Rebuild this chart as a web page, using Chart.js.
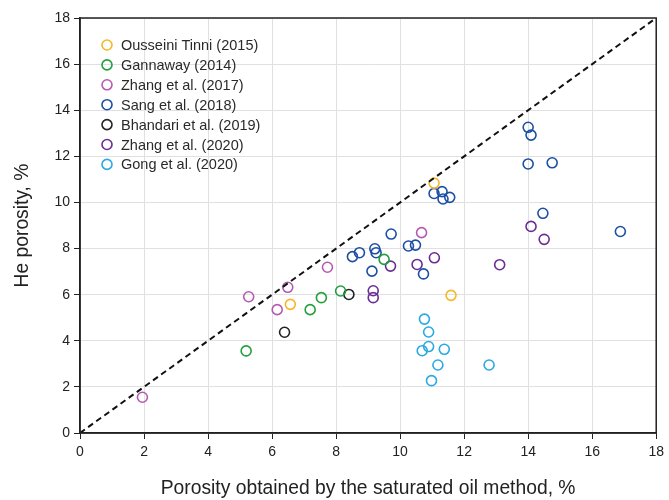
<!DOCTYPE html>
<html>
<head>
<meta charset="utf-8">
<script src="https://cdn.jsdelivr.net/npm/chart.js@4/dist/chart.umd.min.js"></script>
<style>
  html, body { margin: 0; padding: 0; background: #fff; }
  #wrap { width: 669px; height: 500px; }
</style>
</head>
<body>
<div id="wrap"><canvas id="chart" width="669" height="500"></canvas></div>
<script>
// series labels and colours
var seriesNames = ['Ousseini Tinni (2015)', 'Gannaway (2014)', 'Zhang et al. (2017)', 'Sang et al. (2018)',
    'Bhandari et al. (2019)', 'Zhang et al. (2020)', 'Gong et al. (2020)'];
var seriesColors = ['#f6b626', '#22a03c', '#b45bb0', '#1c4fa5', '#222222', '#6b2d94', '#2aa9e2'];

// x = saturated oil porosity, y = He porosity
var tinniX = [11.06, 6.57, 11.59];
var tinniY = [10.84, 5.58, 5.97];

var gannawayX = [5.19, 7.19, 7.54, 8.14, 9.50];
var gannawayY = [3.56, 5.35, 5.87, 6.16, 7.53];

var zhang17X = [1.95, 5.27, 6.16, 6.49, 7.73, 10.67];
var zhang17Y = [1.55, 5.91, 5.35, 6.32, 7.19, 8.69];

var sangX = [9.72, 8.51, 8.73, 9.21, 9.25, 9.12, 10.26, 10.48, 10.73, 14.0, 14.75, 11.06, 11.31, 11.34, 11.55, 14.46, 16.88, 14.0, 14.09];
var sangY = [8.63, 7.65, 7.82, 7.99, 7.82, 7.02, 8.11, 8.15, 6.90, 11.67, 11.72, 10.39, 10.47, 10.15, 10.22, 9.53, 8.74, 13.26, 12.92];

var bhandariX = [6.39, 8.40];
var bhandariY = [4.37, 6.01];

var zhang20X = [9.16, 9.16, 9.70, 10.53, 11.07, 14.09, 14.50, 13.11];
var zhang20Y = [6.17, 5.87, 7.24, 7.31, 7.60, 8.96, 8.40, 7.30];

var gongX = [10.76, 10.89, 10.89, 10.69, 11.38, 11.18, 10.98, 12.78];
var gongY = [4.94, 4.38, 3.75, 3.57, 3.63, 2.95, 2.27, 2.95];

var lineX = [0, 18];
var lineY = [0, 18];

var allX = [tinniX, gannawayX, zhang17X, sangX, bhandariX, zhang20X, gongX];
var allY = [tinniY, gannawayY, zhang17Y, sangY, bhandariY, zhang20Y, gongY];

function toPoints(xs, ys) {
    return xs.map(function(x, i) { return { x: x, y: ys[i] }; });
}

var datasets = seriesNames.map(function(name, i) {
    return {
        type: 'scatter',
        label: name,
        data: toPoints(allX[i], allY[i]),
        borderColor: seriesColors[i],
        backgroundColor: 'rgba(255,255,255,0)',
        pointRadius: 5,
        pointBorderWidth: 1.6,
        pointHoverRadius: 5
    };
});

// 1:1 line
datasets.unshift({
    type: 'line',
    label: '1:1',
    data: toPoints(lineX, lineY),
    borderColor: '#111',
    borderWidth: 2,
    borderDash: [6, 4],
    pointRadius: 0,
    fill: false
});

// frame + legend drawn inside the plot
var framePlugin = {
    id: 'framePlugin',
    afterDraw: function(chart) {
        var ctx = chart.ctx;
        var a = chart.chartArea;
        ctx.save();
        ctx.strokeStyle = '#222';
        ctx.lineWidth = 1.5;
        ctx.strokeRect(a.left, a.top, a.right - a.left, a.bottom - a.top);

        ctx.font = '14.5px "Liberation Sans", Arial, sans-serif';
        ctx.textBaseline = 'middle';
        for (var i = 0; i < seriesNames.length; i++) {
            var y = 45 + i * 19.9;
            ctx.beginPath();
            ctx.arc(107, y, 5, 0, Math.PI * 2);
            ctx.strokeStyle = seriesColors[i];
            ctx.lineWidth = 1.6;
            ctx.stroke();
            ctx.fillStyle = '#2a2a2a';
            ctx.fillText(seriesNames[i], 121, y + 1);
        }
        ctx.restore();
    }
};

new Chart(document.getElementById('chart'), {
    data: { datasets: datasets },
    options: {
        responsive: false,
        animation: false,
        layout: { padding: { top: 18, right: 9, left: 0, bottom: 0 } },
        plugins: {
            legend: { display: false },
            tooltip: { enabled: false }
        },
        scales: {
            x: {
                type: 'linear',
                min: 0,
                max: 18,
                ticks: { stepSize: 2, color: '#222', font: { size: 14, family: '"Liberation Sans", Arial' }, padding: 5 },
                grid: { color: '#e0e0e0', tickColor: '#222', tickLength: 6, lineWidth: 1 },
                border: { color: '#222', width: 1.5 },
                title: { display: true, text: 'Porosity obtained by the saturated oil method, %', color: '#222',
                    font: { size: 19.3, family: '"Liberation Sans", Arial' }, padding: { top: 16, bottom: 0 } },
                afterFit: function(s) { s.height = 67; }
            },
            y: {
                type: 'linear',
                min: 0,
                max: 18,
                ticks: { stepSize: 2, color: '#222', font: { size: 14, family: '"Liberation Sans", Arial' }, padding: 4 },
                grid: { color: '#e0e0e0', tickColor: '#222', tickLength: 6, lineWidth: 1 },
                border: { color: '#222', width: 1.5 },
                title: { display: true, text: 'He porosity, %', color: '#222',
                    font: { size: 19.3, family: '"Liberation Sans", Arial' }, padding: { top: 11, bottom: 0 } },
                afterFit: function(s) { s.width = 80; }
            }
        }
    },
    plugins: [framePlugin]
});
</script>
</body>
</html>
